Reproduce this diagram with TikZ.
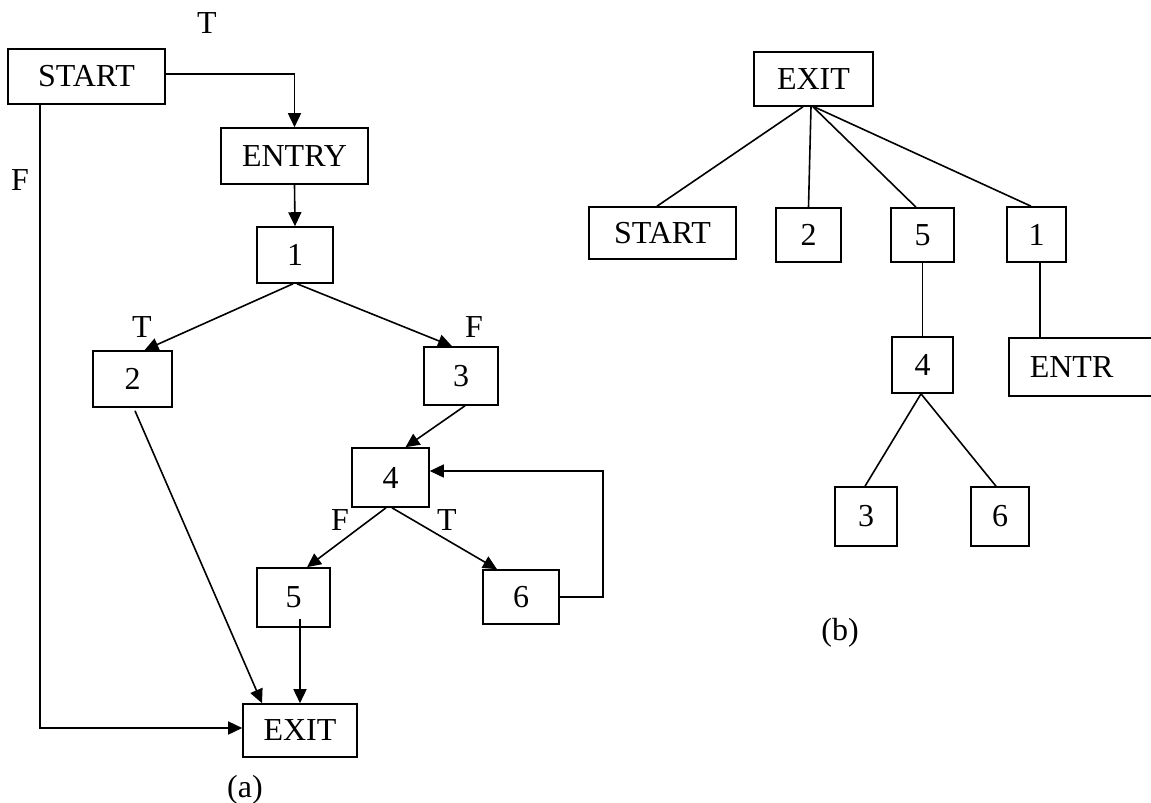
\documentclass[tikz,border=0pt]{standalone}
\usepackage{fontspec}
\setmainfont{Liberation Serif}
\usetikzlibrary{arrows.meta,calc}
\begin{document}
\begin{tikzpicture}[x=1pt,y=-1pt,
  txt/.style={font=\fontsize{32}{38}\selectfont, inner sep=0pt},
  box/.style={txt, draw, line width=1.6pt, rectangle},
  edge/.style={line width=1.6pt},
  arr/.style={edge, -{Triangle[length=14pt,width=13pt]}}]
\useasboundingbox (0,0) rectangle (1151,803);
\clip (0,0) rectangle (1151,803);

% ---------- (a) control flow graph ----------
\node[box, minimum width=157pt, minimum height=55pt] (start) at (86.5,76.5) {START};
\node[box, minimum width=147pt, minimum height=56pt] (entry) at (294.5,156) {ENTRY};
\node[box, minimum width=76pt, minimum height=56pt] (n1) at (295,255) {1};
\node[box, minimum width=79pt, minimum height=56pt] (n2) at (132.5,379) {2};
\node[box, minimum width=74pt, minimum height=58pt] (n3) at (461,376) {3};
\node[box, minimum width=77pt, minimum height=59pt] (n4) at (390.5,477.5) {4};
\node[box, minimum width=73pt, minimum height=59pt] (n5) at (293.5,597.5) {5};
\node[box, minimum width=76pt, minimum height=54pt] (n6) at (521,597) {6};
\node[box, minimum width=114pt, minimum height=53pt] (exit) at (300,730.5) {EXIT};

\node[txt] (lt0) at (207,23) {T};
\node[txt] (lf0) at (20,180) {F};
\node[txt] (lt1) at (142,327) {T};
\node[txt] (lf1) at (474,327) {F};
\node[txt] (lf4) at (340,520) {F};
\node[txt] (lt4) at (447,520) {T};
\node[txt] (capa) at (245,790) {(a)};

\draw[arr] ([yshift=2.5pt]start.east) -| (entry.north);
\draw[arr] (entry.south) -- (n1.north);
\draw[arr] ([xshift=33pt]start.south west) |- ([yshift=2.5pt]exit.west);
\draw[arr] ([xshift=-2pt]n1.south) -- ([xshift=12pt]n2.north);
\draw[arr] ([xshift=2pt]n1.south) -- ([xshift=-9pt]n3.north);
\draw[arr] ([xshift=4pt]n3.south) -- ([xshift=15pt]n4.north);
\draw[arr] ([xshift=-4.5pt]n4.south) -- ([xshift=13.5pt]n5.north);
\draw[arr] ([xshift=1.5pt]n4.south) -- ([xshift=-24pt]n6.north);
\draw[arr] ([xshift=-2pt]n6.east) -- ++(45,0) |- ([yshift=6.5pt]n4.east);
\draw[arr] ([xshift=2.5pt,yshift=-3pt]n2.south) -- ([xshift=-38pt]exit.north);
\draw[arr] ($(n5.south -| exit.north)+(0,-9)$) -- (exit.north);

% ---------- (b) post-dominator tree ----------
\node[box, minimum width=119pt, minimum height=54pt] (bexit) at (813.5,79) {EXIT};
\node[box, minimum width=147pt, minimum height=52pt] (bstart) at (662.5,233) {START};
\node[box, minimum width=65pt, minimum height=54pt] (b2) at (808.5,235) {2};
\node[box, minimum width=63pt, minimum height=54pt] (b5) at (922.5,235) {5};
\node[box, minimum width=59pt, minimum height=55pt] (b1) at (1036.5,234.5) {1};
\node[box, minimum width=61pt, minimum height=56pt] (b4) at (922.5,365) {4};
\node[box, anchor=north west, minimum height=58pt, inner xsep=21pt,
      text width=200pt, align=left] (bentr) at (1008,337) {ENTR};
\node[box, minimum width=62pt, minimum height=59pt] (b3) at (866,516.5) {3};
\node[box, minimum width=58pt, minimum height=59pt] (b6) at (1000,516.5) {6};
\node[txt] (capb) at (840,633) {(b)};

\draw[edge] ([xshift=-10.5pt]bexit.south) -- ([xshift=-5.5pt]bstart.north);
\draw[edge] ([xshift=-2.5pt]bexit.south) -- (b2.north);
\draw[edge] ([xshift=-0.5pt]bexit.south) -- ([xshift=-6.5pt]b5.north);
\draw[edge] ([xshift=0.5pt]bexit.south) -- ([xshift=-5.5pt]b1.north);
\draw[edge] (b5.south) -- (b4.north);
\draw[edge] ([xshift=3.5pt]b1.south) -- ([xshift=3.5pt]b1.south |- bentr.north west);
\draw[edge] ([xshift=-1.5pt]b4.south) -- ([xshift=-1pt]b3.north);
\draw[edge] ([xshift=-1.5pt]b4.south) -- ([xshift=-4pt]b6.north);
\end{tikzpicture}
\end{document}
